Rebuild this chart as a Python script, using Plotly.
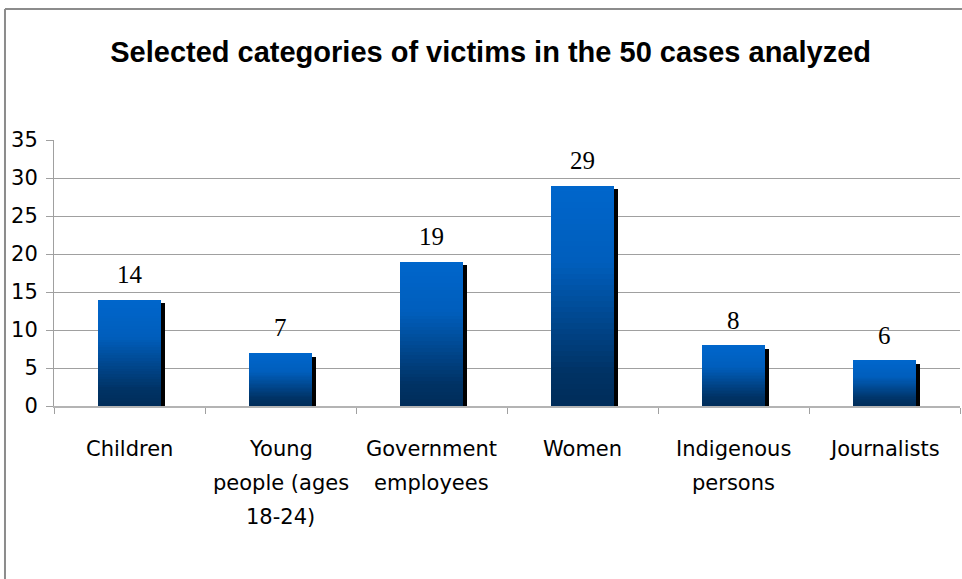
import plotly.graph_objects as go

categories = ["Children", "Young people (ages 18-24)", "Government employees",
              "Women", "Indigenous persons", "Journalists"]
values = [14, 7, 19, 29, 8, 6]
category_labels = ["Children", "Young<br>people (ages<br>18-24)", "Government<br>employees",
                   "Women", "Indigenous<br>persons", "Journalists"]
y_ticks = [0, 5, 10, 15, 20, 25, 30, 35]
title_text = "Selected categories of victims in the 50 cases analyzed"

BAR_W = 0.417
SHADOW_DX = 0.027
SHADOW_DY = 0.5
N_SEG = 40

def grad_color(t):
    # t: 0 at top, 1 at bottom
    stops = [(0.0, (0, 102, 204)), (0.35, (0, 94, 188)), (0.85, (0, 50, 100)), (1.0, (0, 45, 90))]
    for (t0, c0), (t1, c1) in zip(stops[:-1], stops[1:]):
        if t <= t1:
            f = (t - t0) / (t1 - t0)
            return "rgb(%d,%d,%d)" % tuple(round(a + (b - a) * f) for a, b in zip(c0, c1))
    return "rgb(%d,%d,%d)" % stops[-1][1]

fig = go.Figure()

# shadow
fig.add_trace(go.Bar(
    x=categories, y=[v - SHADOW_DY for v in values], base=0,
    width=BAR_W, offset=-BAR_W / 2 + SHADOW_DX,
    marker=dict(color="black", line=dict(width=0)),
    hoverinfo="skip", showlegend=False))

# gradient bars built from stacked slices
for k in range(N_SEG):
    t_top = 1 - (k + 1) / N_SEG
    fig.add_trace(go.Bar(
        x=categories,
        y=[v / N_SEG * 1.02 if k < N_SEG - 1 else v / N_SEG for v in values],
        base=[v * k / N_SEG for v in values],
        width=BAR_W, offset=-BAR_W / 2,
        marker=dict(color=grad_color(t_top + 0.5 / N_SEG), line=dict(width=0)),
        hoverinfo="skip", showlegend=False))

annotations = []
for c, v in zip(categories, values):
    annotations.append(dict(x=c, y=v, xref="x", yref="y", text=str(v), showarrow=False,
                            yanchor="middle", yshift=25,
                            font=dict(family="Liberation Serif", size=25, color="black")))
for c, lab in zip(categories, category_labels):
    for i, line in enumerate(lab.split("<br>")):
        annotations.append(dict(x=c, y=0, xref="x", yref="y", text=line, showarrow=False,
                                yanchor="middle", yshift=-(43 + 34 * i),
                                font=dict(family="DejaVu Sans", size=21, color="black")))

shapes = [
    dict(type="line", xref="paper", yref="paper", x0=-0.0541, x1=1.01, y0=1.4925, y1=1.4925,
         line=dict(color="#8c8c8c", width=2)),
    dict(type="line", xref="paper", yref="paper", x0=-0.0541, x1=-0.0541, y0=1.4925, y1=-0.7,
         line=dict(color="#8c8c8c", width=2)),
]

fig.update_layout(
    width=962, height=579,
    margin=dict(l=54, r=2, t=140, b=173),
    paper_bgcolor="white", plot_bgcolor="white",
    barmode="overlay", bargap=0,
    title=dict(text="<b>" + title_text + "</b>", xref="container", yref="container",
               x=0.51, xanchor="center", y=1 - 52 / 579, yanchor="middle",
               font=dict(family="Liberation Sans", size=29, color="black")),
    xaxis=dict(showticklabels=False, ticks="outside", tickson="boundaries", ticklen=6,
               tickcolor="#a0a0a0", showline=True, linecolor="#b4b4b4", linewidth=2,
               showgrid=False, range=[-0.5, 5.5], fixedrange=True),
    yaxis=dict(range=[0, 35], tickvals=y_ticks, ticks="outside", ticklen=7,
               tickcolor="#a0a0a0", showline=True, linecolor="#a0a0a0", linewidth=1,
               showgrid=True, gridcolor="#a0a0a0", gridwidth=1, zeroline=False,
               ticklabelstandoff=4,
               tickfont=dict(family="DejaVu Sans", size=21, color="black")),
    annotations=annotations, shapes=shapes,
)

fig.write_html("out.html", config={"displayModeBar": False},
               post_script="document.body.style.margin='0px';")
